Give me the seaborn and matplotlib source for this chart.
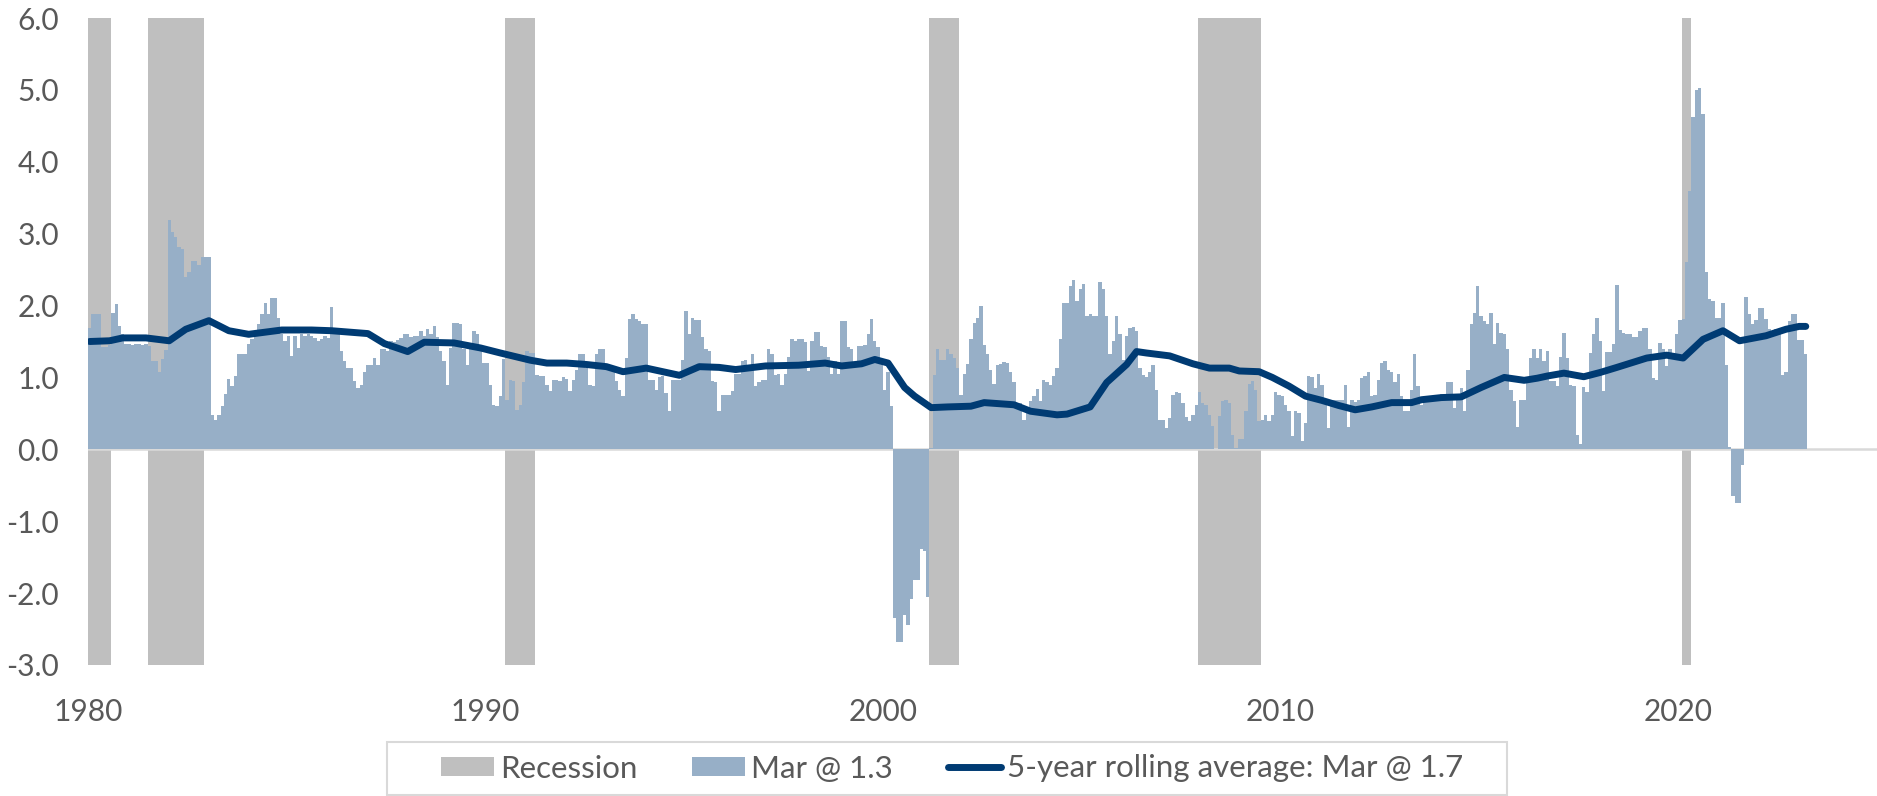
"""
Monthly series with recession shading and a 5-year rolling average line.
"""
import numpy as np
import pandas as pd
import matplotlib
matplotlib.use("Agg")
import matplotlib.pyplot as plt
import seaborn as sns
from matplotlib.patches import Patch, Rectangle
from matplotlib.lines import Line2D

# Monthly values, Jan 1980 .. Mar 2023 (one row per year)
mar_values = [
    1.69, 1.88, 1.88, 1.88, 1.42, 1.42, 1.45, 1.90, 2.02, 1.72, 1.60, 1.46,  # 1980
    1.47, 1.45, 1.46, 1.47, 1.45, 1.46, 1.44, 1.23, 1.23, 1.07, 1.25, 1.38,  # 1981
    3.19, 3.02, 2.95, 2.82, 2.78, 2.40, 2.46, 2.62, 2.62, 2.57, 2.67, 2.67,  # 1982
    2.67, 0.48, 0.41, 0.48, 0.60, 0.77, 0.98, 0.88, 1.02, 1.32, 1.33, 1.32,  # 1983
    1.46, 1.53, 1.61, 1.74, 1.88, 2.04, 1.88, 2.11, 2.11, 1.83, 1.60, 1.51,  # 1984
    1.58, 1.30, 1.58, 1.41, 1.60, 1.58, 1.60, 1.58, 1.55, 1.51, 1.53, 1.58,  # 1985
    1.55, 1.98, 1.62, 1.60, 1.37, 1.23, 1.13, 1.13, 0.95, 0.86, 0.90, 1.07,  # 1986
    1.17, 1.18, 1.27, 1.18, 1.40, 1.40, 1.37, 1.51, 1.50, 1.52, 1.55, 1.61,  # 1987
    1.61, 1.56, 1.57, 1.58, 1.65, 1.58, 1.67, 1.60, 1.72, 1.56, 1.37, 1.23,  # 1988
    0.90, 1.41, 1.76, 1.76, 1.74, 1.39, 1.18, 1.39, 1.65, 1.60, 1.39, 1.20,  # 1989
    1.20, 0.90, 0.62, 0.60, 0.74, 1.25, 0.69, 0.97, 0.95, 0.55, 0.62, 0.93,  # 1990
    1.37, 1.34, 1.34, 1.04, 1.02, 1.02, 0.90, 0.81, 0.96, 0.96, 0.95, 1.00,  # 1991
    0.98, 0.81, 0.97, 1.11, 1.33, 1.33, 1.13, 0.90, 0.88, 1.33, 1.39, 1.39,  # 1992
    1.18, 1.11, 1.09, 0.95, 0.83, 0.74, 1.27, 1.81, 1.88, 1.81, 1.79, 1.74,  # 1993
    1.74, 0.97, 0.97, 0.83, 1.00, 1.02, 0.79, 0.53, 0.96, 0.96, 0.96, 1.24,  # 1994
    1.93, 1.60, 1.82, 1.80, 1.80, 1.56, 1.39, 1.37, 0.95, 0.94, 0.53, 0.76,  # 1995
    0.76, 0.76, 0.81, 1.05, 1.05, 1.23, 1.24, 1.09, 1.32, 0.88, 0.94, 0.96,  # 1996
    0.96, 1.40, 1.32, 1.04, 1.05, 0.90, 1.05, 1.28, 1.54, 1.51, 1.53, 1.53,  # 1997
    1.50, 1.09, 1.51, 1.63, 1.63, 1.44, 1.43, 1.29, 1.05, 1.23, 1.05, 1.78,  # 1998
    1.78, 1.42, 1.39, 1.20, 1.44, 1.44, 1.45, 1.61, 1.81, 1.51, 1.42, 1.19,  # 1999
    0.82, 1.07, 0.60, -2.34, -2.68, -2.68, -2.30, -2.45, -2.08, -1.82, -1.82, -1.38,  # 2000
    -1.42, -2.05, 0.02, 1.04, 1.40, 1.24, 1.24, 1.40, 1.33, 1.27, 1.13, 0.76,  # 2001
    1.05, 1.19, 1.53, 1.76, 1.82, 2.00, 1.45, 1.32, 1.10, 0.91, 1.17, 1.19,  # 2002
    1.21, 1.20, 1.07, 0.93, 0.65, 0.65, 0.41, 0.54, 0.67, 0.74, 0.84, 0.67,  # 2003
    0.96, 0.93, 0.89, 1.02, 1.13, 1.54, 2.04, 2.03, 2.27, 2.36, 2.06, 2.23,  # 2004
    2.30, 1.86, 1.88, 1.86, 1.86, 2.33, 2.23, 1.85, 1.33, 1.51, 1.86, 1.60,  # 2005
    1.24, 1.57, 1.69, 1.70, 1.65, 1.13, 1.04, 1.00, 1.07, 1.17, 0.83, 0.41,  # 2006
    0.41, 0.30, 0.43, 0.76, 0.80, 0.79, 0.65, 0.45, 0.40, 0.48, 0.61, 0.80,  # 2007
    0.65, 0.61, 0.48, 0.32, 0.01, 0.46, 0.67, 0.69, 0.65, 0.20, 0.02, 0.15,  # 2008
    0.15, 0.53, 0.91, 0.95, 0.82, 0.40, 0.41, 0.48, 0.40, 0.48, 0.80, 0.76,  # 2009
    0.74, 0.62, 0.53, 0.18, 0.53, 0.50, 0.11, 0.37, 1.02, 1.00, 0.85, 1.05,  # 2010
    0.90, 0.69, 0.30, 0.69, 0.69, 0.69, 0.69, 0.90, 0.31, 0.68, 0.66, 0.69,  # 2011
    0.99, 1.02, 1.07, 0.74, 0.76, 0.97, 1.20, 1.23, 1.11, 1.07, 0.93, 1.05,  # 2012
    0.74, 0.53, 0.53, 0.82, 1.32, 0.88, 0.62, 0.69, 0.69, 0.72, 0.75, 0.73,  # 2013
    0.77, 0.77, 0.93, 0.94, 0.58, 0.74, 0.86, 0.53, 1.11, 1.74, 1.90, 2.27,  # 2014
    1.86, 1.79, 1.74, 1.89, 1.46, 1.76, 1.62, 1.61, 1.39, 0.83, 0.67, 0.31,  # 2015
    0.68, 0.68, 0.96, 1.27, 1.39, 1.27, 1.40, 1.23, 1.37, 0.95, 0.95, 0.88,  # 2016
    1.28, 1.62, 1.27, 0.90, 0.88, 0.20, 0.07, 0.87, 0.80, 1.34, 1.60, 1.83,  # 2017
    1.51, 0.81, 1.36, 1.36, 1.46, 2.28, 1.66, 1.62, 1.60, 1.60, 1.56, 1.56,  # 2018
    1.65, 1.69, 1.69, 1.40, 0.99, 0.97, 1.48, 1.40, 1.16, 1.40, 1.34, 1.61,  # 2019
    1.80, 1.81, 2.60, 3.60, 4.62, 5.00, 5.02, 4.67, 2.46, 2.09, 2.07, 1.83,  # 2020
    1.83, 2.04, 1.18, 0.03, -0.65, -0.74, -0.74, -0.22, 2.12, 1.88, 1.74, 1.80,  # 2021
    1.97, 1.97, 1.81, 1.67, 1.65, 1.67, 1.65, 1.04, 1.07, 1.79, 1.88, 1.88,  # 2022
    1.52, 1.52, 1.32,  # 2023
]

# 5-year rolling average
avg_dates = [
    "1980-01", "1980-07", "1980-11", "1981-06", "1982-01", "1982-06", "1983-01",
    "1983-07", "1984-01", "1984-11", "1985-08", "1986-02", "1987-01", "1987-06",
    "1988-01", "1988-06", "1989-03", "1989-11", "1990-05", "1991-02", "1991-07",
    "1992-01", "1992-07", "1993-01", "1993-06", "1994-01", "1994-11", "1995-05",
    "1995-11", "1996-04", "1997-01", "1997-11", "1998-07", "1998-12", "1999-06",
    "1999-10", "2000-02", "2000-07", "2000-10", "2001-03", "2001-08", "2002-03",
    "2002-07", "2003-01", "2003-04", "2003-09", "2004-05", "2004-08", "2005-03",
    "2005-08", "2006-02", "2006-05", "2006-08", "2007-03", "2007-10", "2008-03",
    "2008-09", "2008-12", "2009-06", "2009-10", "2010-03", "2010-08", "2011-01",
    "2011-06", "2011-11", "2012-04", "2012-10", "2013-04", "2013-07", "2014-01",
    "2014-07", "2015-01", "2015-08", "2016-02", "2016-06", "2016-09", "2017-02",
    "2017-08", "2018-01", "2018-06", "2019-03", "2019-09", "2020-02", "2020-08",
    "2021-02", "2021-07", "2022-03", "2022-09", "2023-01", "2023-03",
]
avg_values = [
    1.50, 1.51, 1.55, 1.55, 1.51, 1.67, 1.79,
    1.65, 1.60, 1.66, 1.66, 1.65, 1.61, 1.47,
    1.36, 1.49, 1.48, 1.41, 1.34, 1.24, 1.20,
    1.20, 1.18, 1.15, 1.08, 1.13, 1.03, 1.15,
    1.14, 1.11, 1.16, 1.17, 1.20, 1.16, 1.19,
    1.25, 1.20, 0.86, 0.74, 0.58, 0.59, 0.60,
    0.65, 0.63, 0.62, 0.53, 0.48, 0.49, 0.59,
    0.93, 1.18, 1.36, 1.34, 1.30, 1.19, 1.13,
    1.13, 1.09, 1.08, 1.00, 0.88, 0.74, 0.68,
    0.61, 0.55, 0.59, 0.65, 0.65, 0.69, 0.72,
    0.73, 0.86, 1.00, 0.96, 0.99, 1.02, 1.06,
    1.01, 1.07, 1.14, 1.27, 1.31, 1.27, 1.53,
    1.65, 1.51, 1.58, 1.67, 1.71, 1.71,
]

recession_starts = ["1980-01", "1981-07", "1990-07", "2001-03", "2007-12", "2020-02"]
recession_ends = ["1980-07", "1982-11", "1991-03", "2001-11", "2009-06", "2020-04"]

year_ticks = [1980, 1990, 2000, 2010, 2020]
value_ticks = [-3, -2, -1, 0, 1, 2, 3, 4, 5, 6]
legend_labels = ["Recession", "Mar @ 1.3", "5-year rolling average: Mar @ 1.7"]

GRAY = "#BFBFBF"
BAR = "#97AFC7"
NAVY = "#003B73"
TEXT = "#595959"


def to_year(s):
    y, m = s.split("-")
    return int(y) + (int(m) - 1) / 12


sns.set_style("white")
plt.rcParams["font.family"] = ["Lato", "DejaVu Sans"]

months = pd.date_range("1980-01-01", periods=len(mar_values), freq="MS")
x_bar = np.asarray(months.year + (months.month - 1) / 12, dtype=float)
line_df = pd.DataFrame({
    "x": [to_year(d) + 1 / 24 for d in avg_dates],
    "avg": avg_values,
})

W, H = 1877, 796
fig = plt.figure(figsize=(W / 100, H / 100), dpi=100)
ax = fig.add_axes([88 / W, (H - 665) / H, (W - 88) / W, (665 - 18) / H])

for s, e in zip(recession_starts, recession_ends):
    ax.axvspan(to_year(s), to_year(e) + 1 / 12, color=GRAY, lw=0, zorder=1)

ax.axhline(0, color="#D9D9D9", lw=1.8, zorder=1.5)
ax.bar(x_bar, mar_values, width=1 / 12, align="edge", color=BAR,
       linewidth=0, zorder=2)
sns.lineplot(data=line_df, x="x", y="avg", ax=ax, color=NAVY, linewidth=5.0,
             zorder=3, legend=False)
for ln in ax.lines:
    ln.set_solid_capstyle("round")
    ln.set_solid_joinstyle("round")

ax.set_xlim(1980, 2025)
ax.set_ylim(-3, 6)
ax.set_xticks(year_ticks)
ax.set_xticklabels([str(y) for y in year_ticks])
ax.set_yticks(value_ticks)
ax.set_yticklabels([f"{v:.1f}" for v in value_ticks])
ax.tick_params(axis="both", length=0, labelsize=21.5, labelcolor=TEXT)
ax.tick_params(axis="y", pad=21)
ax.tick_params(axis="x", pad=24)
ax.set_xlabel("")
ax.set_ylabel("")
for sp in ax.spines.values():
    sp.set_visible(False)

# legend frame drawn separately so its padding matches the original
fig.patches.append(Rectangle((387 / W, 1 - 795 / H), (1507 - 387) / W, 53 / H,
                             transform=fig.transFigure, facecolor="white",
                             edgecolor="#D9D9D9", lw=1.5, zorder=0))

handles = [
    Patch(facecolor=GRAY, edgecolor="none"),
    Patch(facecolor=BAR, edgecolor="none"),
    Line2D([], [], color=NAVY, lw=5.0),
]
leg = fig.legend(handles, legend_labels, loc="center",
                 bbox_to_anchor=(952 / W, 1 - 768.5 / H), ncol=3,
                 frameon=False, fontsize=22.5, handlelength=1.7,
                 handleheight=0.6, handletextpad=0.2, columnspacing=1.75,
                 borderpad=0, borderaxespad=0)
for t in leg.get_texts():
    t.set_color(TEXT)

fig.savefig("out.png", dpi=100)
